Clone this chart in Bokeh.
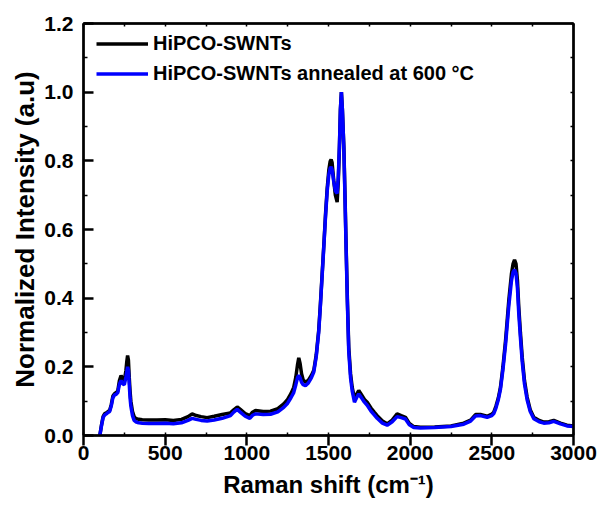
from bokeh.plotting import figure
from bokeh.models import (Range1d, LinearAxis, SingleIntervalTicker, FixedTicker,
                          CustomJSTickFormatter, Legend, LegendItem, ColumnDataSource)
from bokeh.embed import file_html
from bokeh.resources import INLINE

# Raman shift (cm^-1)
raman_shift = [
    100, 110, 120, 130, 140, 150, 160, 170, 180, 190,
    200, 210, 220, 230, 240, 250, 260, 265, 270, 275,
    280, 285, 290, 300, 310, 320, 330, 340, 360, 400,
    450, 500, 550, 600, 640, 665, 690, 720, 757, 800,
    849, 900, 920, 941, 960, 990, 1018, 1035, 1053, 1100,
    1145, 1190, 1226, 1250, 1270, 1287, 1300, 1310, 1318, 1326,
    1335, 1345, 1359, 1375, 1395, 1410, 1425, 1440, 1450, 1461,
    1472, 1482, 1492, 1502, 1510, 1516, 1522, 1532, 1542, 1553,
    1560, 1567, 1573, 1579, 1585, 1594, 1601, 1608, 1616, 1624,
    1635, 1645, 1659, 1672, 1685, 1700, 1720, 1737, 1760, 1780,
    1798, 1830, 1859, 1890, 1920, 1945, 1971, 1995, 2022, 2063,
    2150, 2250, 2328, 2370, 2400, 2430, 2471, 2500, 2512, 2525,
    2540, 2553, 2568, 2584, 2604, 2620, 2630, 2639, 2648, 2657,
    2665, 2675, 2686, 2700, 2716, 2735, 2757, 2790, 2818, 2850,
    2879, 2920, 2960, 3000,
]

# HiPCO-SWNTs (pristine)
hipco = [
    0.000, 0.030, 0.055, 0.064, 0.066, 0.070, 0.073, 0.090, 0.115, 0.122,
    0.125, 0.130, 0.160, 0.175, 0.165, 0.160, 0.190, 0.215, 0.233, 0.220,
    0.170, 0.130, 0.100, 0.070, 0.055, 0.050, 0.048, 0.047, 0.046, 0.045,
    0.045, 0.046, 0.044, 0.047, 0.055, 0.063, 0.058, 0.055, 0.052, 0.056,
    0.061, 0.066, 0.075, 0.083, 0.076, 0.064, 0.058, 0.068, 0.073, 0.070,
    0.071, 0.078, 0.092, 0.105, 0.122, 0.140, 0.170, 0.205, 0.226, 0.210,
    0.180, 0.162, 0.155, 0.160, 0.175, 0.190, 0.235, 0.306, 0.380, 0.470,
    0.560, 0.646, 0.720, 0.773, 0.798, 0.804, 0.795, 0.743, 0.700, 0.680,
    0.740, 0.840, 0.950, 1.000, 0.950, 0.840, 0.700, 0.550, 0.390, 0.257,
    0.180, 0.141, 0.107, 0.120, 0.131, 0.120, 0.105, 0.097, 0.080, 0.068,
    0.058, 0.042, 0.034, 0.045, 0.063, 0.058, 0.053, 0.035, 0.026, 0.024,
    0.025, 0.028, 0.036, 0.045, 0.061, 0.061, 0.056, 0.062, 0.068, 0.085,
    0.110, 0.141, 0.200, 0.277, 0.394, 0.470, 0.500, 0.512, 0.500, 0.450,
    0.374, 0.300, 0.228, 0.160, 0.112, 0.075, 0.053, 0.044, 0.039, 0.040,
    0.044, 0.036, 0.030, 0.028,
]

# HiPCO-SWNTs annealed at 600 C
annealed = [
    0.000, 0.028, 0.052, 0.060, 0.063, 0.067, 0.070, 0.086, 0.110, 0.118,
    0.120, 0.125, 0.150, 0.160, 0.150, 0.148, 0.170, 0.185, 0.200, 0.190,
    0.150, 0.110, 0.085, 0.058, 0.044, 0.040, 0.038, 0.037, 0.036, 0.035,
    0.035, 0.036, 0.034, 0.037, 0.044, 0.050, 0.047, 0.044, 0.042, 0.045,
    0.050, 0.058, 0.068, 0.076, 0.068, 0.056, 0.050, 0.059, 0.063, 0.061,
    0.062, 0.069, 0.082, 0.094, 0.110, 0.125, 0.148, 0.168, 0.175, 0.168,
    0.155, 0.148, 0.145, 0.152, 0.168, 0.185, 0.230, 0.300, 0.375, 0.465,
    0.555, 0.640, 0.712, 0.760, 0.778, 0.782, 0.775, 0.740, 0.712, 0.705,
    0.755, 0.845, 0.950, 1.000, 0.950, 0.835, 0.690, 0.540, 0.380, 0.245,
    0.168, 0.130, 0.097, 0.110, 0.121, 0.111, 0.097, 0.088, 0.071, 0.060,
    0.050, 0.036, 0.030, 0.040, 0.055, 0.052, 0.048, 0.031, 0.023, 0.022,
    0.023, 0.026, 0.033, 0.042, 0.057, 0.058, 0.053, 0.058, 0.064, 0.080,
    0.105, 0.135, 0.192, 0.265, 0.378, 0.450, 0.476, 0.483, 0.472, 0.428,
    0.355, 0.285, 0.215, 0.150, 0.104, 0.070, 0.049, 0.040, 0.036, 0.037,
    0.041, 0.034, 0.028, 0.026,
]

series_labels = ["HiPCO-SWNTs", "HiPCO-SWNTs annealed at 600 \u00b0C"]
x_title = "Raman shift (cm\u207b\u00b9)"
y_title = "Normalized Intensity (a.u)"
y_ticks = [0.0, 0.2, 0.4, 0.6, 0.8, 1.0, 1.2]
y_minor = [0.1, 0.3, 0.5, 0.7, 0.9, 1.1]

FONT = "Liberation Sans"

src = ColumnDataSource(dict(x=raman_shift, a=hipco, b=annealed))

p = figure(width=597, height=506, output_backend="svg", toolbar_location=None,
           x_range=Range1d(0, 3000), y_range=Range1d(0, 1.2),
           min_border_left=83, min_border_right=24, min_border_top=23, min_border_bottom=71)
p.xgrid.visible = False
p.ygrid.visible = False
p.outline_line_color = "black"
p.outline_line_width = 2
p.background_fill_color = "white"
p.border_fill_color = "white"

r1 = p.line("x", "a", source=src, line_color="black", line_width=3.5)
r2 = p.line("x", "b", source=src, line_color="#0000ff", line_width=3.5)

# bottom axis
xa = p.xaxis[0]
xa.ticker = SingleIntervalTicker(interval=500, num_minor_ticks=2)
xa.major_tick_out = 10
xa.major_tick_in = 0
xa.minor_tick_in = 3
xa.minor_tick_out = 0
xa.major_label_standoff = 0
xa.axis_line_width = 2.5
xa.major_tick_line_width = 2.5
xa.minor_tick_line_width = 1.5
xa.major_label_text_font = FONT
xa.major_label_text_font_style = "bold"
xa.major_label_text_font_size = "21px"
xa.major_label_text_color = "black"
xa.axis_label = x_title
xa.axis_label_text_font = FONT
xa.axis_label_text_font_style = "bold"
xa.axis_label_text_font_size = "24px"
xa.axis_label_text_color = "black"
xa.axis_label_standoff = 8

# left axis
ya = p.yaxis[0]
ya.ticker = FixedTicker(ticks=y_ticks, minor_ticks=y_minor)
ya.major_label_overrides = {v: f"{v:.1f}" for v in y_ticks}
ya.major_tick_out = 0
ya.major_tick_in = 10
ya.minor_tick_in = 4
ya.minor_tick_out = 0
ya.major_label_standoff = 10
ya.axis_line_width = 2.5
ya.major_tick_line_width = 2.5
ya.minor_tick_line_width = 1.5
ya.major_label_text_font = FONT
ya.major_label_text_font_style = "bold"
ya.major_label_text_font_size = "21px"
ya.major_label_text_color = "black"
ya.axis_label = y_title
ya.axis_label_text_font = FONT
ya.axis_label_text_font_style = "bold"
ya.axis_label_text_font_size = "26px"
ya.axis_label_text_color = "black"
ya.axis_label_standoff = 1

blank = CustomJSTickFormatter(code="return '';")

# top and right mirror axes (ticks only)
top = LinearAxis(ticker=SingleIntervalTicker(interval=250, num_minor_ticks=0),
                 formatter=blank,
                 major_tick_in=3, major_tick_out=0, minor_tick_in=0, minor_tick_out=0,
                 axis_line_width=2.5, major_tick_line_width=1.5, major_label_standoff=0)
p.add_layout(top, "above")
right = LinearAxis(ticker=FixedTicker(ticks=y_ticks + y_minor),
                   formatter=blank,
                   major_tick_in=3, major_tick_out=0, minor_tick_in=0, minor_tick_out=0,
                   axis_line_width=2.5, major_tick_line_width=1.5, major_label_standoff=0)
p.add_layout(right, "right")

legend = Legend(items=[LegendItem(label=series_labels[0], renderers=[r1]),
                       LegendItem(label=series_labels[1], renderers=[r2])],
                location=(13, 350))
legend.margin = 0
legend.padding = 4
legend.spacing = 7
legend.glyph_width = 52
legend.glyph_height = 21
legend.label_height = 21
legend.label_standoff = 5
legend.label_text_font = FONT
legend.label_text_font_style = "bold"
legend.label_text_font_size = "20px"
legend.label_text_color = "black"
legend.border_line_color = None
legend.background_fill_alpha = 0
p.add_layout(legend, "center")

open("out.html", "w").write(file_html(p, INLINE))
